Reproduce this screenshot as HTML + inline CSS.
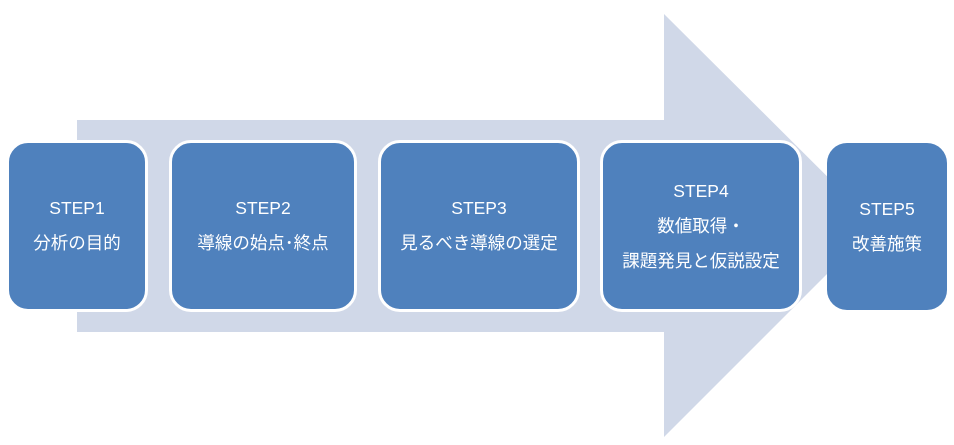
<!DOCTYPE html>
<html><head><meta charset="utf-8"><style>
body{margin:0;width:954px;height:445px;background:#fff;position:relative;overflow:hidden;font-family:"Liberation Sans","Noto Sans CJK JP",sans-serif;}
.b{position:absolute;background:#4f81bd;border:3px solid #fff;border-radius:22px;box-sizing:border-box;color:#fff;font-size:17.5px;text-align:center;display:flex;flex-direction:column;justify-content:center;line-height:35px;}
</style></head><body>
<svg width="954" height="445" style="position:absolute;left:0;top:0">
<polygon points="77,120 664,120 664,14 876,225 664,437 664,332 77,332" fill="#d0d8e8"/>
</svg>
<div class="b" style="left:6px;top:140px;width:142px;height:172px">STEP1<br>分析の目的</div>
<div class="b" style="left:169px;top:140px;width:188px;height:172px">STEP2<br>導線の始点･終点</div>
<div class="b" style="left:378px;top:140px;width:202px;height:172px">STEP3<br>見るべき導線の選定</div>
<div class="b" style="left:600px;top:140px;width:202px;height:172px">STEP4<br>数値取得・<br>課題発見と仮説設定</div>
<div class="b" style="left:827px;top:143px;width:120px;height:167px;border:none;border-radius:20px">STEP5<br>改善施策</div>
</body></html>
